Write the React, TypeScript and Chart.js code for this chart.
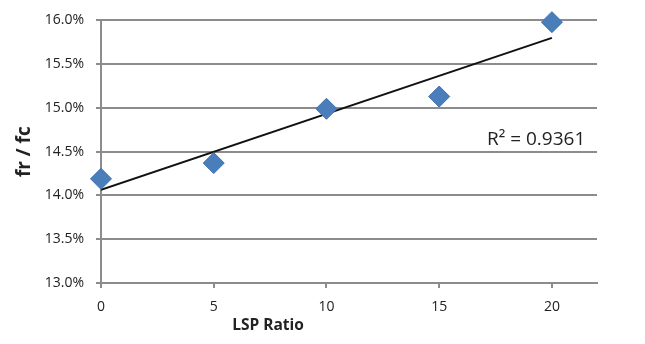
import React, { useEffect, useRef } from "react";
import { Chart, registerables } from "chart.js";

Chart.register(...registerables);

const lspRatio: number[] = [0, 5, 10, 15, 20];
const frOverFc: number[] = [14.19, 14.37, 14.99, 15.13, 15.98];
const yTickMin = 13.0;
const yTickMax = 16.0;
const yStep = 0.5;
const xTickMin = 0;
const xTickMax = 22;
const xStep = 5;
const r2Label = "R\u00B2 = 0.9361";
const xTitle = "LSP Ratio";
const yTitle = "fr / fc";

function linearFit(xs: number[], ys: number[]) {
  const n = xs.length;
  const mx = xs.reduce((a, b) => a + b, 0) / n;
  const my = ys.reduce((a, b) => a + b, 0) / n;
  let sxy = 0;
  let sxx = 0;
  for (let i = 0; i < n; i++) {
    sxy += (xs[i] - mx) * (ys[i] - my);
    sxx += (xs[i] - mx) * (xs[i] - mx);
  }
  const slope = sxy / sxx;
  return { slope, intercept: my - slope * mx };
}

const FONT = "'Open Sans', 'DejaVu Sans', sans-serif";

export default function App() {
  const ref = useRef<HTMLCanvasElement | null>(null);

  useEffect(() => {
    document.body.style.margin = "0";
    const canvas = ref.current;
    if (!canvas) return;
    const fit = linearFit(lspRatio, frOverFc);
    const xFirst = lspRatio[0];
    const xLast = lspRatio[lspRatio.length - 1];
    const trend = [
      { x: xFirst, y: fit.intercept + fit.slope * xFirst },
      { x: xLast, y: fit.intercept + fit.slope * xLast },
    ];

    const labelsPlugin = {
      id: "labels",
      afterDraw(chart: any) {
        const ctx = chart.ctx;
        const area = chart.chartArea;
        const xs = chart.scales.x;
        const ys = chart.scales.y;
        ctx.save();
        ctx.fillStyle = "#222";
        ctx.font = `19px ${FONT}`;
        ctx.textAlign = "center";
        ctx.textBaseline = "middle";
        ctx.fillText(r2Label, xs.getPixelForValue(19.3), ys.getPixelForValue(14.64));
        ctx.font = `bold 15.5px ${FONT}`;
        ctx.fillText(xTitle, 268, 326);
        ctx.translate(25, (area.top + area.bottom) / 2);
        ctx.rotate(-Math.PI / 2);
        ctx.font = `bold 19px ${FONT}`;
        ctx.fillText(yTitle, 0, 0);
        ctx.restore();
      },
    };

    const chart = new Chart(canvas, {
      type: "scatter",
      data: {
        datasets: [
          {
            label: "trend",
            type: "line",
            data: trend,
            borderColor: "#111",
            borderWidth: 2,
            pointRadius: 0,
            fill: false,
            order: 2,
          } as any,
          {
            label: "fr/fc",
            data: lspRatio.map((x, i) => ({ x, y: frOverFc[i] })),
            pointStyle: "rectRot",
            pointRadius: 10.5,
            backgroundColor: "#4a7ebb",
            borderColor: "#3d6fae",
            borderWidth: 1,
            clip: false,
            order: 1,
          } as any,
        ],
      },
      options: {
        responsive: false,
        animation: false,
        layout: { padding: { top: 19, right: 48, left: 0, bottom: 0 } },
        plugins: {
          legend: { display: false },
          tooltip: { enabled: false },
        },
        scales: {
          x: {
            type: "linear",
            min: xTickMin,
            max: xTickMax,
            ticks: {
              stepSize: xStep,
              includeBounds: false,
              color: "#222",
              font: { family: FONT, size: 14 },
              padding: 11,
            },
            grid: {
              drawOnChartArea: false,
              drawTicks: true,
              tickLength: 5,
              color: "#8c8c8c",
              lineWidth: 2,
            },
            border: { display: true, color: "#8c8c8c", width: 2 },
            afterFit: (scale: any) => {
              scale.height = 61;
            },
          },
          y: {
            type: "linear",
            min: yTickMin,
            max: yTickMax,
            ticks: {
              stepSize: yStep,
              color: "#222",
              font: { family: FONT, size: 14 },
              padding: 12,
              callback: (v: any) => Number(v).toFixed(1) + "%",
            },
            grid: {
              drawOnChartArea: true,
              drawTicks: true,
              tickLength: 5,
              color: "#8c8c8c",
              lineWidth: 2,
            },
            border: { display: true, color: "#8c8c8c", width: 2 },
            afterFit: (scale: any) => {
              scale.width = 101;
            },
          },
        },
      },
      plugins: [labelsPlugin],
    });
    return () => chart.destroy();
  }, []);

  return (
    <div style={{ width: 645, height: 344, background: "#fff" }}>
      <canvas ref={ref} width={645} height={344} />
    </div>
  );
}
